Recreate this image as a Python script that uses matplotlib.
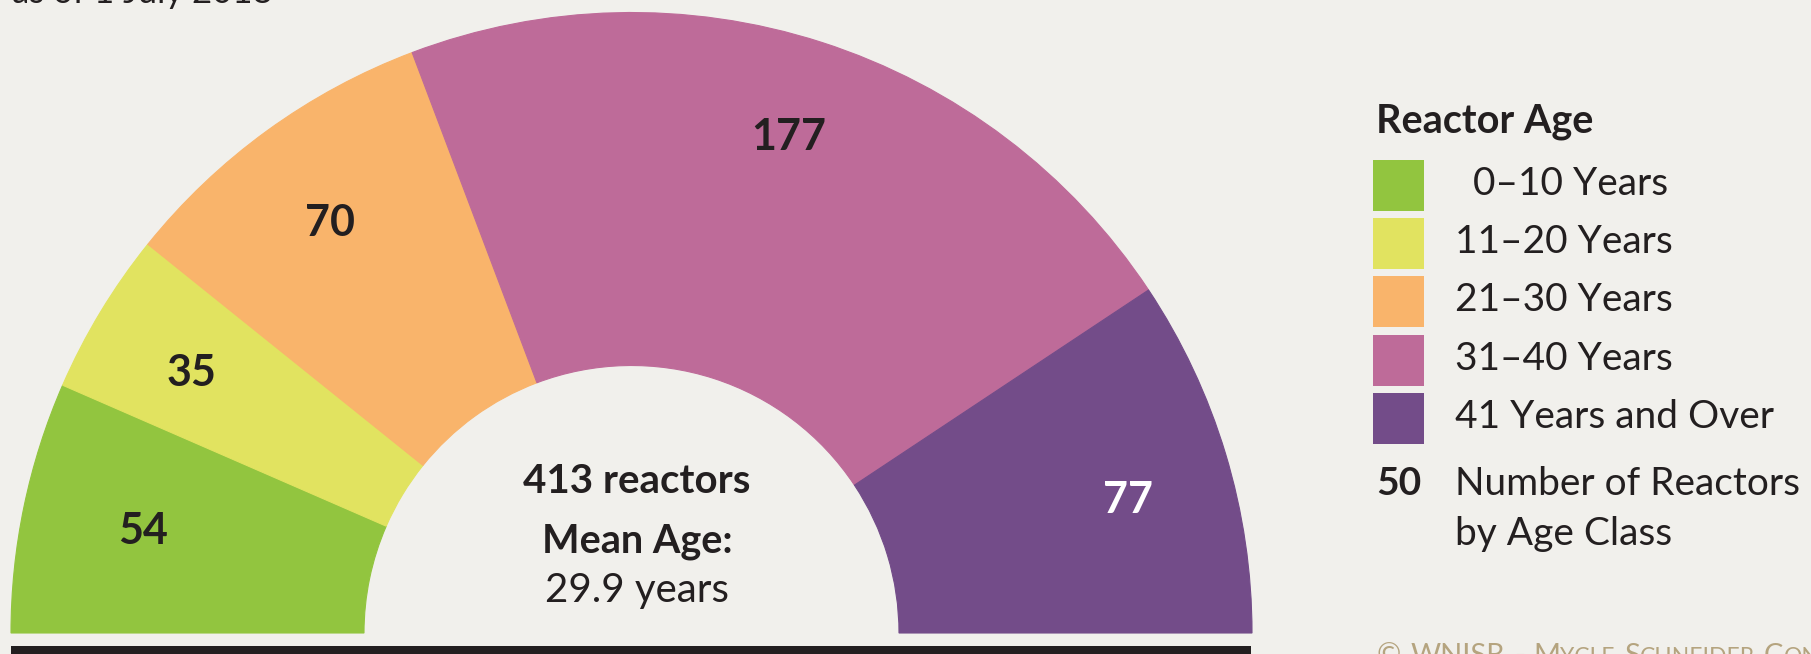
import matplotlib
matplotlib.use("Agg")
import matplotlib.pyplot as plt
from matplotlib.patches import Rectangle
import numpy as np

# ---- data ----
categories = ["0\u201310 Years", "11\u201320 Years", "21\u201330 Years", "31\u201340 Years", "41 Years and Over"]
counts = [54, 35, 70, 177, 77]
colors = ["#92c53f", "#e1e360", "#f9b46b", "#be6b99", "#734c89"]
label_colors = ["#231f20", "#231f20", "#231f20", "#231f20", "#ffffff"]
total_text = "413 reactors"
mean_age_label = "Mean Age:"
mean_age_value = "29.9 years"
subtitle = "as of 1 July 2018"
legend_title = "Reactor Age"
legend_note_num = "50"
legend_note = ["Number of Reactors", "by Age Class"]
credit_words = ["\u00a9", "WNISR", "-", "Mycle", "Schneider", "Consulting"]

# ---- layout / style ----
W, H = 1811, 654
BG = "#f1f0ec"
DARK = "#231f20"
CREDIT = "#b5a47f"
FONT = "Lato"
label_r = [0.804, 0.823, 0.821, 0.838, 0.828]     # radial position of value labels (fraction of radius)
label_dang = [0.0, 0.6, 0.4, 0.3, -1.8]           # small angular nudges (deg)

plt.rcParams["font.family"] = [FONT, "DejaVu Sans"]

fig = plt.figure(figsize=(W / 100, H / 100), dpi=100, facecolor=BG)
ax = fig.add_axes([0, 0, 1, 1])
ax.set_facecolor(BG)

def py(y):  # pixel-from-top -> data y
    return H - y

cx, cy = 631.5, py(633)
R_out, R_in = 620.5, 267.5
total = sum(counts)
vals = counts + [total]  # invisible lower half
wedges, _ = ax.pie(vals, colors=colors + [BG], startangle=180, counterclock=False,
                   center=(cx, cy), radius=R_out,
                   wedgeprops=dict(width=R_out - R_in, linewidth=0.8, antialiased=True))
wedges[-1].set_visible(False)
for w, c in zip(wedges[:-1], colors):
    w.set_edgecolor(c)

ax.set_xlim(0, W)
ax.set_ylim(0, H)
ax.set_aspect("auto")
ax.axis("off")

# slice value labels
for w, n, lc, rf, da in zip(wedges[:-1], counts, label_colors, label_r, label_dang):
    ang = np.deg2rad((w.theta1 + w.theta2) / 2 + da)
    r = rf * R_out
    ax.text(cx + r * np.cos(ang), cy + r * np.sin(ang), str(n), ha="center", va="center",
            fontsize=31, fontweight="bold", color=lc)

# centre text
ax.text(637, py(493), total_text, ha="center", va="baseline", fontsize=29, fontweight="bold", color=DARK)
ax.text(637, py(553), mean_age_label, ha="center", va="baseline", fontsize=28.5, fontweight="bold", color=DARK)
ax.text(637, py(602), mean_age_value, ha="center", va="baseline", fontsize=29, color=DARK)

# bottom dark bar
ax.add_patch(Rectangle((11, py(660)), 1240, 14, facecolor=DARK, edgecolor="none"))

# clipped subtitle at top
ax.text(12, py(3), subtitle, ha="left", va="baseline", fontsize=25, color=DARK)

# legend
ax.text(1376, py(132), legend_title, ha="left", va="baseline", fontsize=28.5, fontweight="bold", color=DARK)
sw_tops = [160, 218, 276, 335, 393]
for i, (cat, col) in enumerate(zip(categories, colors)):
    t = sw_tops[i]
    ax.add_patch(Rectangle((1373, py(t + 51)), 51, 51, facecolor=col, edgecolor="none"))
    lx = 1473 if i == 0 else 1455
    ax.text(lx, py(t + 24), cat, ha="left", va="center", fontsize=28, color=DARK)
ax.text(1376, py(495), legend_note_num, ha="left", va="baseline", fontsize=28, fontweight="bold", color=DARK)
ax.text(1455, py(495), legend_note[0], ha="left", va="baseline", fontsize=28, color=DARK)
ax.text(1455, py(545), legend_note[1], ha="left", va="baseline", fontsize=28, color=DARK)

# credit in small caps (clipped at bottom)
renderer = fig.canvas.get_renderer()
x = 1377
base = py(664)
big, small = 21, 16.5
for word in credit_words:
    if word.isupper() or not word[0].isalpha():
        first, rest = word, ""
    else:
        first, rest = word[0], word[1:].upper()
    t1 = ax.text(x, base, first, ha="left", va="baseline", fontsize=big, color=CREDIT)
    x += t1.get_window_extent(renderer).width
    if rest:
        t2 = ax.text(x, base, rest, ha="left", va="baseline", fontsize=small, color=CREDIT)
        x += t2.get_window_extent(renderer).width
    x += 9

fig.savefig("out.png", dpi=100, facecolor=BG)
